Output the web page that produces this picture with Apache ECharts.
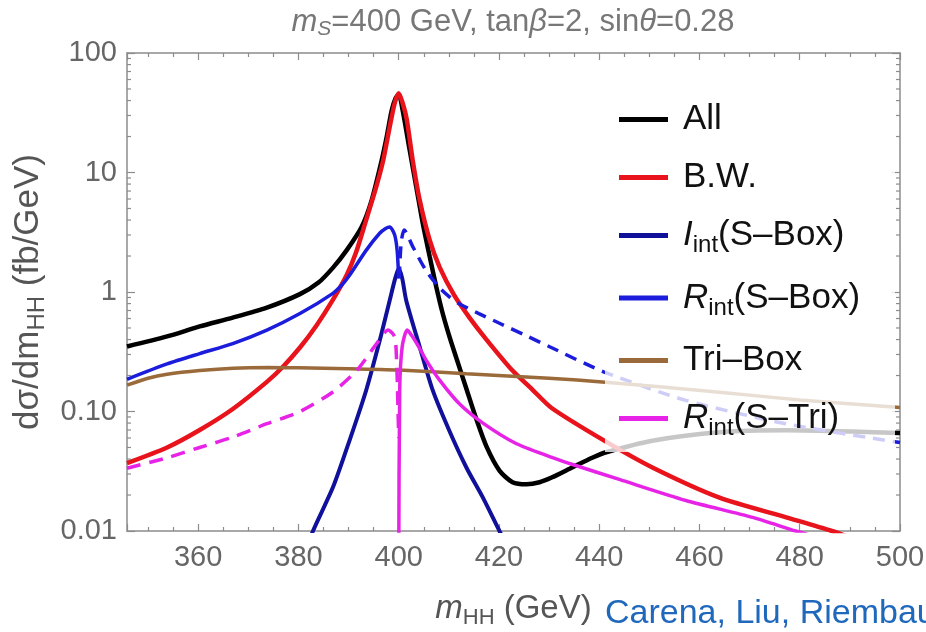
<!DOCTYPE html>
<html>
<head>
<meta charset="utf-8">
<script src="https://cdn.jsdelivr.net/npm/echarts@6/dist/echarts.min.js"></script>
<style>
html, body { margin: 0; padding: 0; background: #fff; }
#chart { width: 926px; height: 632px; }
</style>
</head>
<body>
<div id="chart"></div>
<script>
// m_HH (GeV) and d sigma / d m_HH (fb/GeV)
var allX = [345.8, 353.8, 360.3, 366.9, 373.7, 380.3, 384, 386.9, 389.6, 392.6, 394.6, 396.6, 397.6, 398.6, 399.4, 400, 400.8, 402.2, 403.5, 404.8, 406.2, 407.5, 408.7, 410, 411.5, 413.5, 415.5, 417.5, 420.1, 422.7, 425.5, 428.1, 430.5, 434.6, 438.6, 441.4, 450.6, 464, 477.3, 490.4, 500];
var allY = [0.35, 0.425, 0.515, 0.61, 0.74, 0.96, 1.2, 1.6, 2.23, 3.5, 5.85, 12.6, 19.8, 33, 42, 45, 33, 15.3, 7.6, 3.76, 1.96, 1.1, 0.68, 0.44, 0.28, 0.155, 0.086, 0.051, 0.032, 0.0256, 0.0246, 0.0256, 0.028, 0.034, 0.041, 0.0456, 0.057, 0.067, 0.0696, 0.068, 0.066];

var bwX = [345.8, 353.8, 360.3, 366.9, 373.7, 376.9, 380.3, 383.6, 386.8, 389.6, 391.5, 393.5, 395.5, 396.9, 398.2, 399.2, 400, 400.8, 401.6, 402.8, 404.2, 406.2, 408.2, 411, 414, 417.5, 422.7, 426.7, 430.5, 441, 450.6, 464, 477.3, 486.4, 492];
var bwY = [0.037, 0.05, 0.07, 0.105, 0.177, 0.237, 0.343, 0.525, 0.85, 1.38, 2.15, 4.0, 7.55, 12.6, 24, 38, 46, 38, 28, 12.6, 5.85, 2.7, 1.6, 0.95, 0.62, 0.4, 0.22, 0.152, 0.107, 0.057, 0.034, 0.019, 0.013, 0.01, 0.0082];

var iBoxX = [381, 382.9, 386.9, 390.2, 393.5, 396.2, 398.2, 399.3, 400, 400.7, 401.5, 404.2, 406.8, 410.1, 413.5, 416.8, 420.1, 422];
var iBoxY = [0.006, 0.01, 0.0233, 0.0574, 0.15, 0.39, 0.85, 1.3, 1.57, 1.3, 0.85, 0.346, 0.15, 0.069, 0.034, 0.019, 0.01, 0.007];

// R_int(S-Box): positive below the peak (solid), |negative| above it (dashed)
var rBoxPosX = [345.8, 353.8, 360.3, 366.9, 373.7, 380.3, 386.8, 388.7, 390.2, 393.5, 396.2, 397.4, 398.2, 399.2, 399.7, 400];
var rBoxPosY = [0.186, 0.25, 0.305, 0.37, 0.48, 0.66, 0.97, 1.15, 1.38, 2.23, 3.1, 3.4, 3.5, 3.0, 2.2, 1.3];
var rBoxNegX = [400.1, 400.5, 401.1, 402.8, 405.5, 408.2, 410, 412, 416, 420, 425, 430, 441, 457.3, 477.2, 500];
var rBoxNegY = [1.3, 2.6, 3.3, 2.4, 1.5, 1.08, 0.92, 0.8, 0.66, 0.55, 0.44, 0.35, 0.214, 0.124, 0.079, 0.055];

var triBoxX = [345.8, 350, 353.8, 360.3, 367, 374, 380, 390, 400, 413.5, 430, 441.2, 464, 480, 500];
var triBoxY = [0.166, 0.19, 0.205, 0.22, 0.23, 0.233, 0.232, 0.228, 0.222, 0.207, 0.19, 0.176, 0.145, 0.125, 0.108];

// R_int(S-Tri): |negative| below the peak (dashed), positive above it (solid)
var rTriNegX = [345.8, 353.8, 360.3, 366.9, 373.7, 380.3, 386.8, 391.6, 395.6, 397.9, 399.2, 399.6, 399.8, 400];
var rTriNegY = [0.0335, 0.041, 0.05, 0.061, 0.079, 0.1, 0.145, 0.22, 0.37, 0.48, 0.42, 0.25, 0.13, 0.06];
var rTriPosX = [400, 400.2, 400.7, 401.7, 402.8, 404.2, 405.5, 408.2, 412.1, 416.8, 423.4, 430.1, 434.7, 444, 457.3, 470.6, 479.2, 485];
var rTriPosY = [0.004, 0.15, 0.35, 0.48, 0.42, 0.336, 0.268, 0.182, 0.116, 0.08, 0.054, 0.042, 0.036, 0.027, 0.018, 0.013, 0.01, 0.0085];

var legendNames = ['All', 'B.W.', 'Iint(S–Box)', 'Rint(S–Box)', 'Tri–Box', 'Rint(S–Tri)'];
var legendText = ['{n|All}', '{n|B.W.}', '{it|I}{sub|int}{n|(S–Box)}', '{it|R}{sub|int}{n|(S–Box)}', '{n|Tri–Box}', '{it|R}{sub|int}{n|(S–Tri)}'];
var yTicks = [0.01, 0.1, 1, 10, 100];
var yTickText = ['0.01', '0.10', '1', '10', '100'];
var xMin = 345.8, xMax = 500;

var F = "'Liberation Sans', Arial, sans-serif";
var axisGray = '#8c8c8c';
var labelGray = '#666';

function pairs(xs, ys) {
  return xs.map(function (x, i) { return [x, ys[i]]; });
}

// rich text styles; key is 'color' for components, 'fill' for graphic text
function richSet(fs, color, key, lh) {
  function s(o) { o[key] = color; o.fontFamily = F; o.lineHeight = lh; return o; }
  return {
    n: s({ fontSize: fs }),
    it: s({ fontSize: fs, fontStyle: 'italic' }),
    sub: s({ fontSize: Math.round(fs * 0.68), verticalAlign: 'bottom' }),
    isub: s({ fontSize: Math.round(fs * 0.68), fontStyle: 'italic', verticalAlign: 'bottom' })
  };
}

// minor ticks of the log axis (2..9 in each decade)
var yMinor = [];
for (var d = 0; d < yTicks.length - 1; d++) {
  for (var k = 2; k <= 9; k++) yMinor.push(yTicks[d] * k);
}

function lineSeries(name, data, color, width, dash) {
  return {
    name: name, type: 'line', data: data, symbol: 'none', smooth: 0.25,
    silent: true, clip: true,
    lineStyle: { color: color, width: width, type: dash || 'solid', cap: 'butt' },
    itemStyle: { color: color }
  };
}

var chart = echarts.init(document.getElementById('chart'), null, { renderer: 'canvas' });

var xAxisBase = {
  type: 'value', min: xMin, max: xMax, splitNumber: 8,
  axisLine: { show: true, onZero: false, lineStyle: { color: axisGray, width: 1.5 } },
  axisTick: { show: true, inside: true, length: 7, lineStyle: { color: axisGray, width: 1.2 } },
  minorTick: { show: true, splitNumber: 4, length: 4, lineStyle: { color: axisGray, width: 1.2 } },
  splitLine: { show: false }
};
var yAxisBase = {
  type: 'log', logBase: 10, min: 0.01, max: 100,
  axisLine: { show: true, onZero: false, lineStyle: { color: axisGray, width: 1.5 } },
  axisTick: { show: true, inside: true, length: 8, lineStyle: { color: axisGray, width: 1.2 } },
  splitLine: { show: false }
};

chart.setOption({
  animation: false,
  backgroundColor: '#fff',
  grid: { left: 127, right: 26, top: 53, bottom: 101, containLabel: false, outerBoundsMode: 'none' },
  xAxis: [
    Object.assign({}, xAxisBase, {
      position: 'bottom',
      axisLabel: {
        show: true, showMinLabel: false, margin: 12, fontSize: 29, color: labelGray, fontFamily: F
      },
      name: '{it|m}{sub|HH}{n| (GeV)}', nameLocation: 'middle', nameGap: 58,
      nameTextStyle: { rich: richSet(33, '#555', 'color', 40) }
    }),
    Object.assign({}, xAxisBase, { position: 'top', axisLabel: { show: false } })
  ],
  yAxis: [
    Object.assign({}, yAxisBase, {
      position: 'left',
      axisLabel: {
        show: true, margin: 10, fontSize: 29, color: labelGray, fontFamily: F,
        formatter: function (v) {
          var i = Math.round(Math.log10(v)) + 2;
          return yTickText[i] || '';
        }
      },
      name: '{n|dσ/dm}{sub|HH}{n| (fb/GeV)}', nameLocation: 'middle', nameRotate: 90, nameGap: 75,
      nameTextStyle: { rich: richSet(35, '#555', 'color', 42) }
    }),
    Object.assign({}, yAxisBase, { position: 'right', axisLabel: { show: false } })
  ],
  legend: {
    orient: 'vertical', left: 614, top: 97, padding: 5, zlevel: 2,
    icon: 'rect', itemWidth: 49, itemHeight: 5, itemGap: 23,
    selectedMode: false, data: legendNames,
    formatter: function (n) { return legendText[legendNames.indexOf(n)]; },
    textStyle: { fontSize: 35, color: '#111', fontFamily: F, padding: [0, 0, 0, 10], rich: richSet(35, '#111', 'color', 44) }
  },
  graphic: [
    {
      type: 'rect', zlevel: 1, z: 10, silent: true,
      shape: { x: 605, y: 85, width: 290, height: 367 },
      style: { fill: 'rgba(255,255,255,0.78)' }
    },
    {
      type: 'text', x: 513, y: 22, silent: true,
      style: {
        text: '{it|m}{isub|S}{n|=400 GeV, tan}{it|β}{n|=2, sin}{it|θ}{n|=0.28}',
        align: 'center', verticalAlign: 'middle',
        rich: richSet(31, '#777', 'fill', 36)
      }
    },
    {
      type: 'text', x: 605, y: 614, silent: true,
      style: {
        text: 'Carena, Liu, Riembau', fill: '#1f68bb', fontSize: 34, fontFamily: F,
        align: 'left', verticalAlign: 'middle'
      }
    }
  ],
  series: [
    lineSeries('All', pairs(allX, allY), '#000000', 4.5),
    lineSeries('B.W.', pairs(bwX, bwY), '#e8131b', 4.5),
    lineSeries('Iint(S–Box)', pairs(iBoxX, iBoxY), '#10109a', 4),
    lineSeries('Rint(S–Box)', pairs(rBoxPosX, rBoxPosY), '#1c1cdc', 3.5),
    lineSeries('Rint(S–Box)', pairs(rBoxNegX, rBoxNegY), '#1c1cdc', 3.5, [12, 8]),
    lineSeries('Tri–Box', pairs(triBoxX, triBoxY), '#9b6a3a', 3.5),
    lineSeries('Rint(S–Tri)', pairs(rTriPosX, rTriPosY), '#e623e6', 3.5),
    lineSeries('Rint(S–Tri)', pairs(rTriNegX, rTriNegY), '#e623e6', 3.5, [14, 9]),
    {
      name: 'yMinorTicks', type: 'custom', silent: true, clip: false, z: 5,
      data: yMinor.map(function (v) { return [xMin, v]; }),
      renderItem: function (params, api) {
        var v = api.value(1);
        var a = api.coord([xMin, v]);
        var b = api.coord([xMax, v]);
        var st = { stroke: axisGray, lineWidth: 1.2 };
        return {
          type: 'group', children: [
            { type: 'line', shape: { x1: a[0], y1: a[1], x2: a[0] + 4, y2: a[1] }, style: st },
            { type: 'line', shape: { x1: b[0] - 4, y1: b[1], x2: b[0], y2: b[1] }, style: st }
          ]
        };
      }
    }
  ]
});
</script>
</body>
</html>
